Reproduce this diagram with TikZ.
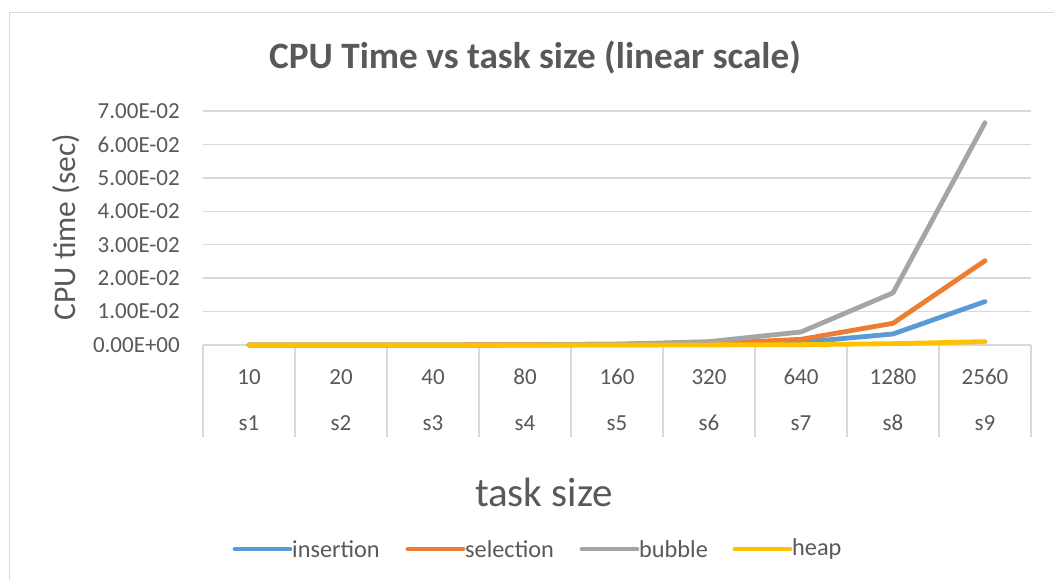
\documentclass[tikz,border=0pt]{standalone}
\usepackage{fontspec}
\setmainfont{Carlito}
\definecolor{txt}{HTML}{595959}
\definecolor{grid}{HTML}{D9D9D9}
\definecolor{frame}{HTML}{D9D9D9}
\definecolor{cIns}{HTML}{5B9BD5}
\definecolor{cSel}{HTML}{ED7D31}
\definecolor{cBub}{HTML}{A5A5A5}
\definecolor{cHeap}{HTML}{FFC000}
\tikzset{
  gridline/.style={draw=grid, line width=1.4pt},
  series/.style={line width=4.8pt, line cap=round, line join=round},
  ticklabel/.style={text=txt, font=\fontsize{23}{23}\selectfont, anchor=east, inner sep=0pt},
  catlabel/.style={text=txt, font=\fontsize{23}{23}\selectfont, inner sep=0pt},
  legtext/.style={text=txt, font=\fontsize{24.3}{24.3}\selectfont, anchor=west, inner sep=0pt},
}
% value -> vertical position (0 at 345, 0.01 per 33.43 units)
\newcommand{\vy}[1]{{345-#1*3343}}
\begin{document}
\begin{tikzpicture}[x=1pt, y=-1pt]
  \useasboundingbox (0,0) rectangle (1054,579);
  \fill[white] (0,0) rectangle (1054,579);
  % chart frame
  \draw[frame, line width=1.4pt] (1060,12.5) -- (9.5,12.5) -- (9.5,590);

  % title
  \node[text=txt, font=\bfseries\fontsize{37.2}{37.2}\selectfont, inner sep=0pt] (title) at (535,58) {CPU Time vs task size (linear scale)};

  % horizontal gridlines and value labels
  \foreach \k/\lab in {1/1.00E-02,2/2.00E-02,3/3.00E-02,4/4.00E-02,5/5.00E-02,6/6.00E-02,7/7.00E-02}{
    \draw[gridline] (203,{345-\k*33.43}) -- (1031,{345-\k*33.43});
    \node[ticklabel] (v\k) at (180,{345-\k*33.43}) {\lab};
  }
  \node[ticklabel] (v0) at (180,345) {0.00E+00};

  % category axis
  \draw[gridline] (203,345) -- (1031,345);
  \foreach \k in {0,...,9}{
    \draw[gridline] ({203+92*\k},345) -- ({203+92*\k},437);
  }
  \foreach \n/\s [count=\i] in {10/s1,20/s2,40/s3,80/s4,160/s5,320/s6,640/s7,1280/s8,2560/s9}{
    \node[catlabel] (n\i) at ({203+92*(\i-0.5)},377) {\n};
    \node[catlabel] (s\i) at ({203+92*(\i-0.5)},423) {\s};
  }

  % axis titles
  \node[text=txt, font=\fontsize{31.5}{31.5}\selectfont, rotate=90, inner sep=0pt] (ytitle) at (66,227) {CPU time (sec)};
  \node[text=txt, font=\fontsize{41}{41}\selectfont, inner sep=0pt] (xtitle) at (544,492) {task size};

  % data series
  \draw[series, cIns] (249,\vy{0.000001}) -- (341,\vy{0.000003}) -- (433,\vy{0.00001}) -- (525,\vy{0.00003})
    -- (617,\vy{0.00006}) -- (709,\vy{0.0002}) -- (801,\vy{0.0008}) -- (893,\vy{0.0033}) -- (985,\vy{0.0130});
  \draw[series, cSel] (249,\vy{0.000001}) -- (341,\vy{0.000004}) -- (433,\vy{0.000015}) -- (525,\vy{0.00006})
    -- (617,\vy{0.00025}) -- (709,\vy{0.0004}) -- (801,\vy{0.0017}) -- (893,\vy{0.0065}) -- (985,\vy{0.0252});
  \draw[series, cBub] (249,\vy{0.000001}) -- (341,\vy{0.000004}) -- (433,\vy{0.000015}) -- (525,\vy{0.00006})
    -- (617,\vy{0.00025}) -- (709,\vy{0.0010}) -- (801,\vy{0.0039}) -- (893,\vy{0.0156}) -- (985,\vy{0.0665});
  \draw[series, cHeap] (249,\vy{0}) -- (341,\vy{0}) -- (433,\vy{0.000002}) -- (525,\vy{0.000005})
    -- (617,\vy{0.00001}) -- (709,\vy{0.00003}) -- (801,\vy{0.0001}) -- (893,\vy{0.0004}) -- (985,\vy{0.0010});

  % legend
  \foreach \c/\xa/\lab/\nm in {cIns/235/insertion/lgA, cSel/408/selection/lgB, cBub/582/bubble/lgC, cHeap/735/heap/lgD}{
    \draw[series, \c] (\xa,549) -- ({\xa+55},549);
    \node[legtext] (\nm) at ({\xa+57},549) {\lab};
  }
\end{tikzpicture}
\end{document}
